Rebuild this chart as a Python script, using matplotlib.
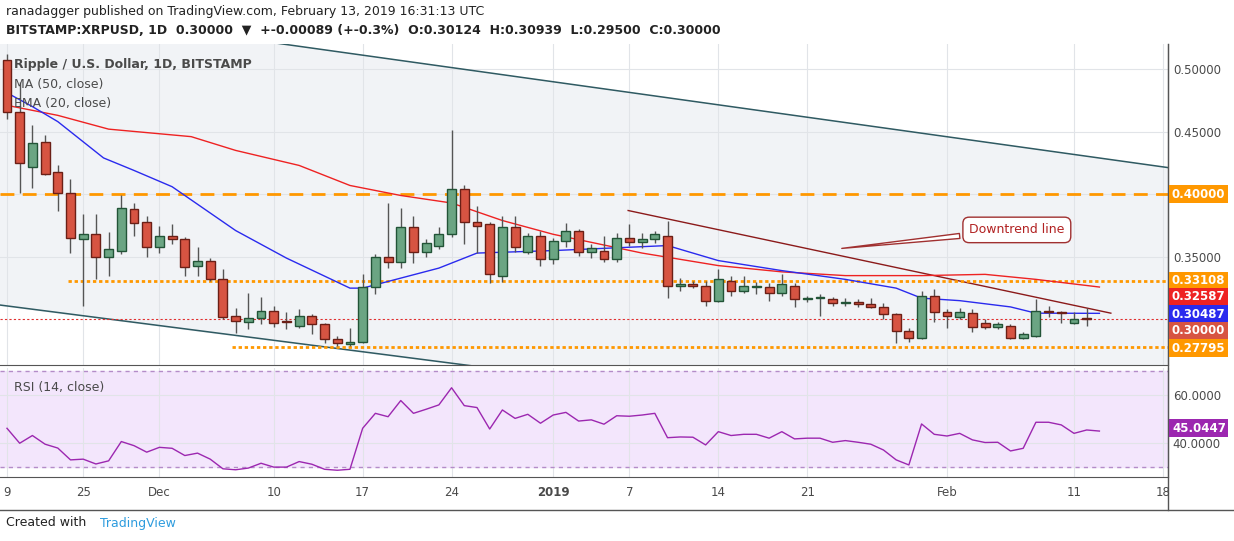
import numpy as np
import matplotlib.pyplot as plt
from matplotlib.patches import Rectangle

W, H = 1234, 541

# daily candles, Nov 19 2018 -> Feb 13 2019
opens = [0.507, 0.466, 0.422, 0.442, 0.418, 0.401, 0.364, 0.368, 0.350, 0.355, 0.388, 0.378, 0.358, 0.367, 0.364, 0.343, 0.347, 0.332,
         0.303, 0.298, 0.301, 0.307, 0.299, 0.295, 0.303, 0.296, 0.284, 0.280, 0.282, 0.326, 0.350, 0.346, 0.374, 0.354, 0.359, 0.368,
         0.404, 0.378, 0.376, 0.335, 0.374, 0.354, 0.367, 0.348, 0.363, 0.371, 0.354, 0.355, 0.348, 0.365, 0.362, 0.364, 0.367, 0.327,
         0.328, 0.327, 0.315, 0.331, 0.323, 0.326, 0.326, 0.321, 0.327, 0.316, 0.317, 0.316, 0.313, 0.314, 0.312, 0.310, 0.304, 0.291,
         0.285, 0.319, 0.306, 0.302, 0.305, 0.297, 0.294, 0.295, 0.285, 0.287, 0.307, 0.306, 0.297, 0.30124]
closes = [0.466, 0.425, 0.441, 0.416, 0.401, 0.365, 0.368, 0.350, 0.356, 0.389, 0.377, 0.358, 0.367, 0.364, 0.342, 0.347, 0.332, 0.302,
          0.299, 0.301, 0.307, 0.297, 0.298, 0.303, 0.296, 0.284, 0.281, 0.282, 0.326, 0.350, 0.346, 0.374, 0.354, 0.361, 0.368, 0.404,
          0.378, 0.375, 0.336, 0.374, 0.358, 0.367, 0.348, 0.363, 0.371, 0.354, 0.357, 0.348, 0.365, 0.362, 0.364, 0.368, 0.327, 0.328,
          0.327, 0.315, 0.332, 0.323, 0.327, 0.326, 0.321, 0.328, 0.316, 0.317, 0.317, 0.313, 0.314, 0.312, 0.310, 0.304, 0.291, 0.285,
          0.319, 0.306, 0.303, 0.306, 0.294, 0.294, 0.296, 0.285, 0.288, 0.307, 0.306, 0.305, 0.300, 0.300]
highs = [0.512, 0.490, 0.455, 0.447, 0.423, 0.412, 0.384, 0.384, 0.370, 0.399, 0.393, 0.383, 0.375, 0.376, 0.366, 0.358, 0.349, 0.340,
         0.309, 0.321, 0.318, 0.311, 0.306, 0.308, 0.304, 0.297, 0.287, 0.293, 0.336, 0.352, 0.393, 0.389, 0.383, 0.364, 0.374, 0.451,
         0.407, 0.391, 0.378, 0.383, 0.383, 0.369, 0.371, 0.365, 0.377, 0.372, 0.360, 0.367, 0.369, 0.376, 0.369, 0.371, 0.379, 0.333,
         0.331, 0.331, 0.340, 0.335, 0.335, 0.330, 0.329, 0.336, 0.329, 0.319, 0.320, 0.318, 0.317, 0.316, 0.317, 0.313, 0.305, 0.293,
         0.323, 0.324, 0.308, 0.309, 0.308, 0.300, 0.298, 0.296, 0.290, 0.316, 0.311, 0.307, 0.306, 0.30939]
lows = [0.460, 0.401, 0.405, 0.415, 0.387, 0.353, 0.311, 0.332, 0.335, 0.352, 0.367, 0.350, 0.353, 0.360, 0.335, 0.335, 0.331, 0.300,
        0.289, 0.292, 0.296, 0.294, 0.292, 0.293, 0.288, 0.281, 0.279, 0.279, 0.281, 0.320, 0.341, 0.341, 0.345, 0.350, 0.356, 0.366,
        0.360, 0.353, 0.329, 0.330, 0.354, 0.352, 0.343, 0.344, 0.358, 0.351, 0.349, 0.346, 0.346, 0.359, 0.357, 0.361, 0.317, 0.323,
        0.325, 0.311, 0.314, 0.319, 0.321, 0.320, 0.315, 0.319, 0.310, 0.314, 0.303, 0.311, 0.311, 0.310, 0.309, 0.300, 0.281, 0.282,
        0.284, 0.298, 0.293, 0.300, 0.290, 0.292, 0.292, 0.284, 0.284, 0.286, 0.302, 0.297, 0.296, 0.295]

# moving averages (day index, price)
ema_days = [0, 2, 4, 7.6, 10, 13, 18, 22, 27, 28, 31, 34, 37, 43, 52, 56, 61, 66, 70, 72, 75, 79, 81, 86]
ema_vals = [0.481, 0.470, 0.458, 0.429, 0.419, 0.406, 0.371, 0.349, 0.325, 0.325, 0.333, 0.341, 0.353, 0.355, 0.359, 0.347,
            0.339, 0.332, 0.325, 0.317, 0.315, 0.310, 0.305, 0.30487]
ma_days = [0, 4, 8, 14.5, 18, 23, 27, 31, 35, 39, 43, 50, 56, 61, 66, 72, 77, 81, 86]
ma_vals = [0.471, 0.463, 0.452, 0.446, 0.435, 0.423, 0.407, 0.399, 0.393, 0.379, 0.368, 0.353, 0.343, 0.338, 0.335, 0.335,
           0.336, 0.332, 0.32587]

rsi = [46.2, 40, 43.2, 39.6, 38, 33.1, 33.4, 31.4, 32.7, 40.7, 39, 36.3, 38.3, 37.9, 34.9, 35.9, 33.4, 29.4, 29, 29.7, 31.7, 30.1,
       30.1, 32.4, 31.3, 29.2, 28.8, 29.2, 46.2, 52.4, 51, 57.7, 52.4, 54.1, 55.9, 63, 55.6, 54.8, 45.9, 53.8, 50.3, 52, 48.3, 51.7,
       52.8, 49.2, 49.7, 47.9, 51.4, 51.2, 51.7, 52.4, 42.3, 42.6, 42.5, 39.3, 44.8, 43.2, 43.7, 43.7, 42.1, 44.8, 41.8, 42.1, 42.1,
       40.4, 41.1, 40.4, 39.6, 37.2, 33.1, 31, 48, 43.7, 43, 44.1, 41.4, 40.3, 40.4, 36.8, 37.9, 48.7, 48.7, 47.6, 44.1, 45.5, 45.0447]

tick_days = [0, 6, 12, 21, 28, 35, 43, 49, 56, 63, 74, 84, 91]
tick_labels = ["9", "25", "Dec", "10", "17", "24", "2019", "7", "14", "21", "Feb", "11", "18"]

UP, UP_E = "#6ba583", "#225437"
DN, DN_E = "#d75442", "#6b1f16"
ORANGE = "#ff9800"


def fr(x0, y0, x1, y1):
    return [x0 / W, 1 - y1 / H, (x1 - x0) / W, (y1 - y0) / H]


fig = plt.figure(figsize=(W / 100, H / 100), dpi=100)
ax = fig.add_axes(fr(0, 44, 1168, 365))
rax = fig.add_axes(fr(0, 368, 1168, 477))
xmin, xmax = -0.55, 91.4
for a in (ax, rax):
    a.set_axisbelow(True)
    a.set_xlim(xmin, xmax)
    a.set_xticks(tick_days)
    a.grid(True, color="#e1e4e8", lw=0.8, zorder=0.5)
    a.tick_params(length=0, labelleft=False, labelbottom=False, labelright=True, labelsize=8.5, labelcolor="#4a4a4a")
    for s in a.spines.values():
        s.set_color("#555555")
    a.spines["left"].set_visible(False)
    a.spines["top"].set_visible(False)
ax.set_ylim(0.2636, 0.520)
ax.set_yticks([0.35, 0.40, 0.45, 0.50])
ax.set_yticklabels(["0.35000", "", "0.45000", "0.50000"])
ax.yaxis.tick_right()

# channel
xs = np.array([xmin, xmax])
up_line = 0.520 + (xs - 21.7) * (0.421 - 0.520) / (91.6 - 21.7)
lo_line = 0.3115 + (xs + 0.55) * (0.2636 - 0.3115) / 36.65
ax.fill_between(xs, lo_line, up_line, color="#f1f3f6", zorder=0.2)
ax.plot(xs, up_line, color="#2f5a62", lw=1.1, zorder=2)
ax.plot(xs, lo_line, color="#2f5a62", lw=1.1, zorder=2)
ax.plot([48.9, 86.9], [0.387, 0.305], color="#8b1a1a", lw=1, zorder=2)

ax.plot([xmin, xmax], [0.40, 0.40], color=ORANGE, lw=2, ls=(0, (5, 3)), zorder=2)
ax.plot([4.8, xmax], [0.33108, 0.33108], color=ORANGE, lw=2, ls=(0, (1.2, 1)), zorder=2)
ax.plot([17.7, xmax], [0.27795, 0.27795], color=ORANGE, lw=2, ls=(0, (1.2, 1)), zorder=2)
ax.plot([xmin, xmax], [0.30, 0.30], color="#e03030", lw=0.8, ls=(0, (2, 2)), zorder=2)

ax.plot(ma_days, ma_vals, color="#ee2222", lw=1, zorder=3)
ax.plot(ema_days, ema_vals, color="#2a2aee", lw=1, zorder=3)

for i in range(len(opens)):
    o, c = opens[i], closes[i]
    fc, ec = (UP, UP_E) if c >= o else (DN, DN_E)
    ax.vlines(i, lows[i], highs[i], color="#555555", lw=1, zorder=4)
    ax.add_patch(Rectangle((i - 0.35, min(o, c)), 0.7, max(abs(c - o), 0.0008), facecolor=fc, edgecolor=ec, lw=1, zorder=5))

# price labels on the right axis, spread so they do not overlap (label y in pixels)
for v, col, txt, py in [(0.40, ORANGE, "0.40000", 194), (0.33108, ORANGE, "0.33108", 281), (0.32587, "#ee2222", "0.32587", 297),
                        (0.30487, "#2a2aee", "0.30487", 314), (0.30, "#d75442", "0.30000", 331),
                        (0.27795, ORANGE, "0.27795", 348)]:
    fig.text(1172 / W, 1 - py / H, txt, va="center", ha="left", fontsize=8.5, color="white", fontweight="bold",
             bbox=dict(boxstyle="square,pad=0.22", fc=col, ec="none"))

ax.annotate("Downtrend line", xy=(65.5, 0.3565), xytext=(79.5, 0.3715), fontsize=9, color="#b22222",
            ha="center", va="center", zorder=6,
            bbox=dict(boxstyle="round,pad=0.5", fc="white", ec="#a03030", lw=1),
            arrowprops=dict(arrowstyle="wedge,tail_width=0.4", fc="white", ec="#a03030", lw=1))

ax.text(0.012, 0.955, "Ripple / U.S. Dollar, 1D, BITSTAMP", transform=ax.transAxes, fontsize=9, color="#4a4a4a",
        fontweight="bold", va="top", zorder=7)
ax.text(0.012, 0.895, "MA (50, close)", transform=ax.transAxes, fontsize=9, color="#4a4a4a", va="top", zorder=7)
ax.text(0.012, 0.835, "EMA (20, close)", transform=ax.transAxes, fontsize=9, color="#4a4a4a", va="top", zorder=7)

# RSI
rax.set_ylim(26, 71.2)
rax.axhspan(30, 70, color="#f3e6fc", zorder=0.2)
rax.axhline(70, color="#b48cc8", lw=1, ls=(0, (3, 3)))
rax.axhline(30, color="#b48cc8", lw=1, ls=(0, (3, 3)))
rax.plot(range(len(rsi)), rsi, color="#9c27b0", lw=1)
rax.set_yticks([40, 60])
rax.set_yticklabels(["40.0000", "60.0000"])
rax.yaxis.tick_right()
rax.text(0.012, 0.88, "RSI (14, close)", transform=rax.transAxes, fontsize=9, color="#4a4a4a", va="top")
fig.text(1172 / W, 1 - 428 / H, "45.0447", va="center", ha="left", fontsize=8.5, color="white", fontweight="bold",
         bbox=dict(boxstyle="square,pad=0.22", fc="#9c27b0", ec="none"))

for d, lab in zip(tick_days, tick_labels):
    fig.text((d - xmin) / (xmax - xmin) * 1168 / W, 1 - 492 / H, lab, ha="center", va="center", fontsize=8.5,
             color="#4a4a4a", fontweight="bold" if lab == "2019" else "normal")
fig.add_artist(plt.Line2D([0, 1], [1 - 510 / H] * 2, color="#555555", lw=1))
fig.add_artist(plt.Line2D([1168 / W] * 2, [1 - 510 / H, 1 - 44 / H], color="#555555", lw=1))

fig.text(6 / W, 1 - 12 / H, "ranadagger published on TradingView.com, February 13, 2019 16:31:13 UTC", fontsize=9,
         color="#222222", va="center")
fig.text(6 / W, 1 - 30 / H, "BITSTAMP:XRPUSD, 1D  0.30000  \u25bc  +-0.00089 (+-0.3%)  O:0.30124  H:0.30939  L:0.29500  C:0.30000",
         fontsize=9, color="#222222", fontweight="bold", va="center")
fig.text(6 / W, 1 - 523 / H, "Created with", fontsize=9, color="#222222", va="center")
fig.text(100 / W, 1 - 523 / H, "TradingView", fontsize=9, color="#2e9cde", va="center")

fig.savefig("out.png", dpi=100)
